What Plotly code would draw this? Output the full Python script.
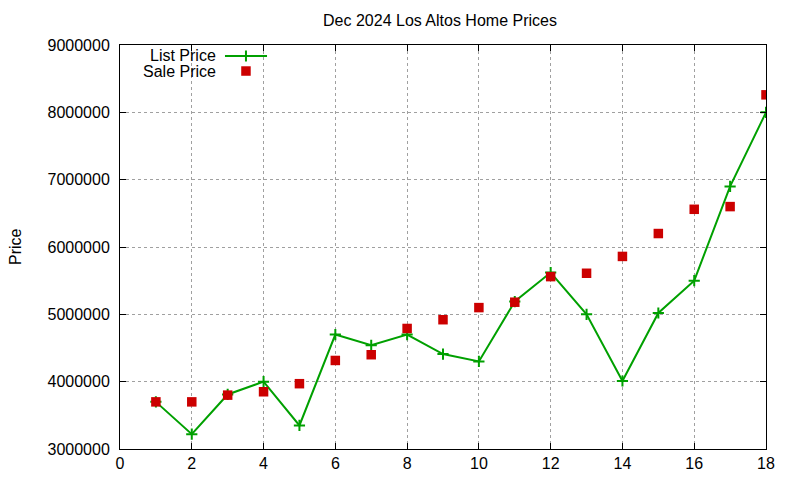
import plotly.graph_objects as go

# Dec 2024 Los Altos listings, ordered by list price rank
HOMES = list(range(1, 19))
LIST_PRICE = [3700000, 3220000, 3810000, 4000000, 3350000, 4700000, 4540000, 4700000, 4410000,
              4300000, 5190000, 5620000, 5000000, 4010000, 5020000, 5500000, 6900000, 8000000]
SALE_PRICE = [3700000, 3700000, 3800000, 3850000, 3970000, 4315000, 4400000, 4790000, 4920000,
              5100000, 5180000, 5560000, 5610000, 5860000, 6200000, 6560000, 6600000, 8260000]
TITLE = 'Dec 2024 Los Altos Home Prices'
KEY_LABELS = ['List Price', 'Sale Price']

GREEN = '#00a000'
RED = '#cc0000'
FONT = 'Liberation Sans, Arial, sans-serif'
CROSS = dict(symbol='cross-thin', size=8, line=dict(color=GREEN, width=2))
SQUARE = dict(symbol='square', size=9.5, color=RED, line=dict(width=0))

def main () :
	fig = go.Figure()
	fig.add_trace(go.Scatter(x=HOMES,
	                         y=LIST_PRICE,
	                         mode='lines+markers',
	                         line=dict(color=GREEN, width=2),
	                         marker=CROSS,
	                         name='List Price'))
	fig.add_trace(go.Scatter(x=HOMES,
	                         y=SALE_PRICE,
	                         mode='markers',
	                         marker=SQUARE,
	                         name='Sale Price'))

	# gnuplot style key: text on the left, sample on the right
	fig.add_trace(go.Scatter(x=[0.1625, 0.195, 0.2276], y=[0.9728]*3,
	                         xaxis='x2', yaxis='y2', mode='lines',
	                         line=dict(color=GREEN, width=2),
	                         hoverinfo='skip', showlegend=False))
	fig.add_trace(go.Scatter(x=[0.195], y=[0.9728],
	                         xaxis='x2', yaxis='y2', mode='markers',
	                         marker=CROSS, hoverinfo='skip', showlegend=False))
	fig.add_trace(go.Scatter(x=[0.195], y=[0.9356],
	                         xaxis='x2', yaxis='y2', mode='markers',
	                         marker=SQUARE, hoverinfo='skip', showlegend=False))
	for txt, yy in zip(KEY_LABELS, [0.9728, 0.9356]) :
		fig.add_annotation(text=txt, x=0.1517, y=yy, xref='paper', yref='paper',
		                   xanchor='right', yanchor='middle', showarrow=False,
		                   font=dict(size=16, color='black'))
	fig.add_annotation(text='Price', x=-0.1625, y=0.5, xref='paper', yref='paper',
	                   xanchor='center', yanchor='middle', textangle=-90, showarrow=False,
	                   font=dict(size=16, color='black'))

	axis = dict(showline=True, linecolor='black', linewidth=1, mirror='ticks',
	            ticks='inside', ticklen=6, tickcolor='black',
	            showgrid=True, gridcolor='#a0a0a0', griddash='dot', gridwidth=1,
	            zeroline=False, tickfont=dict(size=16, color='black'))
	fig.update_xaxes(range=[0, 18], dtick=2, **axis)
	fig.update_yaxes(range=[3000000, 9000000], dtick=1000000, tickformat='d',
	                 ticklabelstandoff=6, **axis)
	fig.update_layout(xaxis2=dict(range=[0, 1], overlaying='x', visible=False),
	                  yaxis2=dict(range=[0, 1], overlaying='y', visible=False),
	                  title=dict(text=TITLE, x=(440-8)/800, xanchor='center',
	                             y=0.9735, yanchor='middle',
	                             font=dict(size=16, color='black')),
	                  font=dict(family=FONT, color='black'),
	                  showlegend=False,
	                  plot_bgcolor='white',
	                  paper_bgcolor='white',
	                  width=800, height=480,
	                  margin=dict(l=112, r=42, t=37, b=39))
	fig.write_html('out.html')

if __name__ == '__main__' :
	main()
